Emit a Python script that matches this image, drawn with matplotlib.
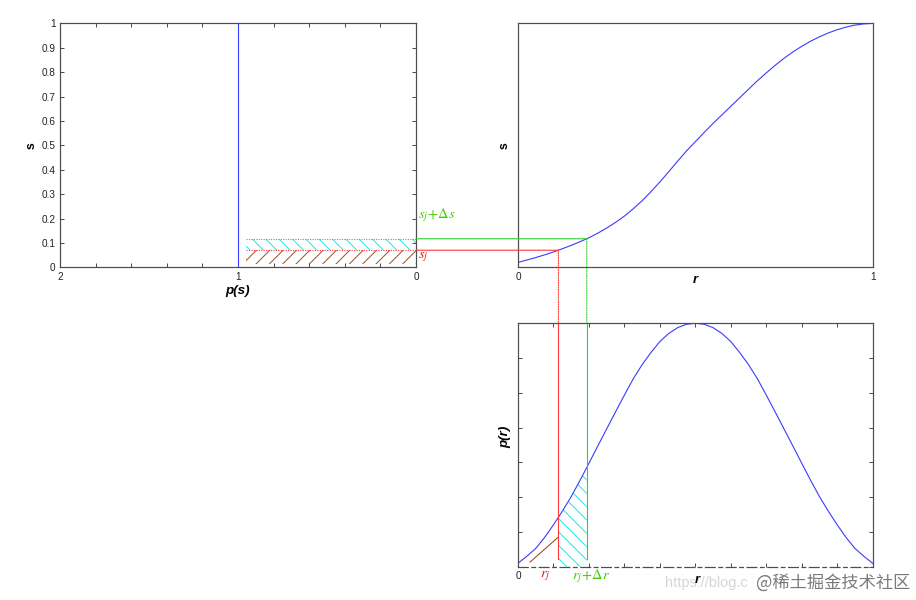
import numpy as np
import matplotlib.pyplot as plt
from matplotlib.patches import ConnectionPatch

plt.rcParams['font.family'] = ['Liberation Sans', 'DejaVu Sans']
plt.rcParams['mathtext.fontset'] = 'stix'
plt.rcParams['hatch.linewidth'] = 0.9

r = np.linspace(0, 1, 41)
p_r = [0.014, 0.043, 0.075, 0.12, 0.172, 0.228, 0.288, 0.355, 0.425, 0.496,
       0.566, 0.636, 0.705, 0.772, 0.83, 0.88, 0.925, 0.958, 0.982, 0.996,
       1.0,
       0.996, 0.982, 0.958, 0.925, 0.88, 0.83, 0.772, 0.705, 0.636, 0.566,
       0.496, 0.425, 0.355, 0.288, 0.228, 0.172, 0.12, 0.075, 0.043, 0.014]
s_r = [0.02, 0.03, 0.04, 0.051, 0.063, 0.076, 0.09, 0.105, 0.121, 0.14,
       0.161, 0.184, 0.21, 0.24, 0.273, 0.31, 0.35, 0.392, 0.435, 0.477,
       0.515,
       0.553, 0.59, 0.625, 0.66, 0.695, 0.73, 0.765, 0.797, 0.828, 0.857,
       0.883, 0.906, 0.927, 0.945, 0.961, 0.974, 0.985, 0.993, 0.998, 1.0]
p_s = [1, 1]
s_vals = [0, 1]
r_j, dr = 0.114, 0.08
s_j, ds = 0.07, 0.047
band_left = 0.955      # where the hatch bands start in p(s) axes
band_floor = 0.012
brown_r = [0.034, r_j]
brown_p = [0.019, 0.122]

blue = '#3b3bff'
red = '#ff3a3a'
green = '#2fd22f'
cyan = '#22e8f0'
brown = '#a0522d'
spine = '#4d4d4d'
dots = (0, (1, 1.2))

fig = plt.figure(figsize=(11.45, 7.5), dpi=80)
ax1 = fig.add_axes([0.0655, 0.5545, 0.3886, 0.4065])
ax2 = fig.add_axes([0.5655, 0.5545, 0.3872, 0.4065])
ax3 = fig.add_axes([0.5655, 0.0555, 0.3872, 0.4057])

for ax in (ax1, ax2, ax3):
    for sp in ax.spines.values():
        sp.set_color(spine)
        sp.set_linewidth(1.1)
    ax.tick_params(direction='in', top=True, right=True, length=4, width=0.9,
                   color=spine, labelsize=9, labelcolor='#222222', pad=4)

# --- p(s) vs s ---
ax1.plot(p_s, s_vals, color=blue, lw=1)
ax1.fill_between([0, band_left], s_j, s_j + ds, hatch='\\\\', facecolor='none',
                 edgecolor=cyan, linewidth=0)
ax1.fill_between([0, band_left], band_floor, s_j, hatch='//', facecolor='none',
                 edgecolor=brown, linewidth=0)
ax1.plot([band_left, 0], [s_j + ds] * 2, color=green, lw=1, ls=dots)
ax1.plot([band_left, 0], [s_j] * 2, color=red, lw=1, ls=dots)
ax1.set_xlim(2, 0)
ax1.set_ylim(0, 1)
xt = np.round(np.arange(0, 2.01, 0.2), 1)
ax1.set_xticks(xt)
ax1.set_xticklabels([str(int(v)) if v in (0, 1, 2) else '' for v in xt])
yt = np.round(np.arange(0, 1.01, 0.1), 1)
ax1.set_yticks(yt)
ax1.set_yticklabels(['0'] + ['%.1f' % v for v in yt[1:-1]] + ['1'])
ax1.text(-0.081, 0.5, 's', transform=ax1.transAxes, rotation=90, ha='center',
         va='center', fontsize=11, fontweight='bold')
ax1.text(0.5, -0.096, 'p(s)', transform=ax1.transAxes, ha='center', va='center',
         fontsize=12, fontweight='bold', style='italic')
ax1.text(-0.01, 0.212, r'$s_j\!+\!\mathit{\Delta} s$', color='#44cc00',
         fontsize=13, ha='left', va='center')
ax1.text(-0.01, 0.044, r'$s_j$', color='#ee1111', fontsize=13, ha='left',
         va='center')

# --- s vs r ---
ax2.plot(r, s_r, color=blue, lw=1)
ax2.set_xlim(0, 1)
ax2.set_ylim(0, 1)
ax2.set_xticks([0, 1])
ax2.set_xticklabels(['0', '1'])
ax2.set_yticks([])
ax2.tick_params(length=0)
ax2.text(-0.037, 0.5, 's', transform=ax2.transAxes, rotation=90, ha='center',
         va='center', fontsize=11, fontweight='bold')
ax2.text(0.5, -0.053, 'r', transform=ax2.transAxes, ha='center', va='center',
         fontsize=12, fontweight='bold', style='italic')

# --- p(r) vs r ---
ax3.plot(r, p_r, color=blue, lw=1)
inside = (r > r_j) & (r < r_j + dr)
rr = np.concatenate([[r_j], r[inside], [r_j + dr]])
pp = np.interp(rr, r, p_r)
ax3.fill_between(rr, 0, pp, hatch='\\\\', facecolor='none', edgecolor=cyan,
                 linewidth=0)
ax3.plot(brown_r, brown_p, color=brown, lw=1)
ax3.plot([r_j, r_j], [0.03, 1], color=red, lw=1)
ax3.plot([r_j + dr, r_j + dr], [0.03, 1], color=green, lw=1)
ax3.set_xlim(0, 1)
ax3.set_ylim(0, 1)
xt3 = np.round(np.arange(0, 1.01, 0.1), 1)
ax3.set_xticks(xt3)
ax3.set_xticklabels(['0'] + [''] * (len(xt3) - 1))
ax3.set_yticks(np.arange(0, 8) / 7)
ax3.set_yticklabels([])
ax3.spines['bottom'].set_linestyle((0, (8, 3, 3, 3)))
ax3.text(-0.037, 0.533, 'p(r)', transform=ax3.transAxes, rotation=90,
         ha='center', va='center', fontsize=12, fontweight='bold', style='italic')
ax3.text(0.505, -0.055, 'r', transform=ax3.transAxes, ha='center', va='center',
         fontsize=12, fontweight='bold', style='italic')
ax3.text(0.076, -0.04, r'$r_j$', color='#ee1111', fontsize=13, ha='center',
         va='center', clip_on=False)
ax3.text(0.206, -0.04, r'$r_j\!+\!\mathit{\Delta} r$', color='#44cc00',
         fontsize=13, ha='center', va='center', clip_on=False)

# --- connecting lines ---
links = [
    ((0, s_j), ax1, (r_j, s_j), ax2, red, '-'),
    ((0, s_j + ds), ax1, (r_j + dr, s_j + ds), ax2, green, '-'),
    ((r_j, s_j), ax2, (r_j, 1), ax3, red, dots),
    ((r_j + dr, s_j + ds), ax2, (r_j + dr, 1), ax3, green, dots),
]
for xa, axa, xb, axb, c, ls in links:
    con = ConnectionPatch(xyA=xa, coordsA=axa.transData, xyB=xb,
                          coordsB=axb.transData, color=c, lw=1, ls=ls)
    fig.add_artist(con)

# watermark
fig.text(0.726, 0.028, 'https://blog.c', color='#d6d6d6', fontsize=13,
         ha='left', va='center')
fig.text(0.994, 0.028, '@稀土掘金技术社区', color='#7a7a7a', fontsize=15.5,
         ha='right', va='center', family=['Noto Sans CJK SC', 'DejaVu Sans'])

fig.savefig('out.png', dpi=80)
